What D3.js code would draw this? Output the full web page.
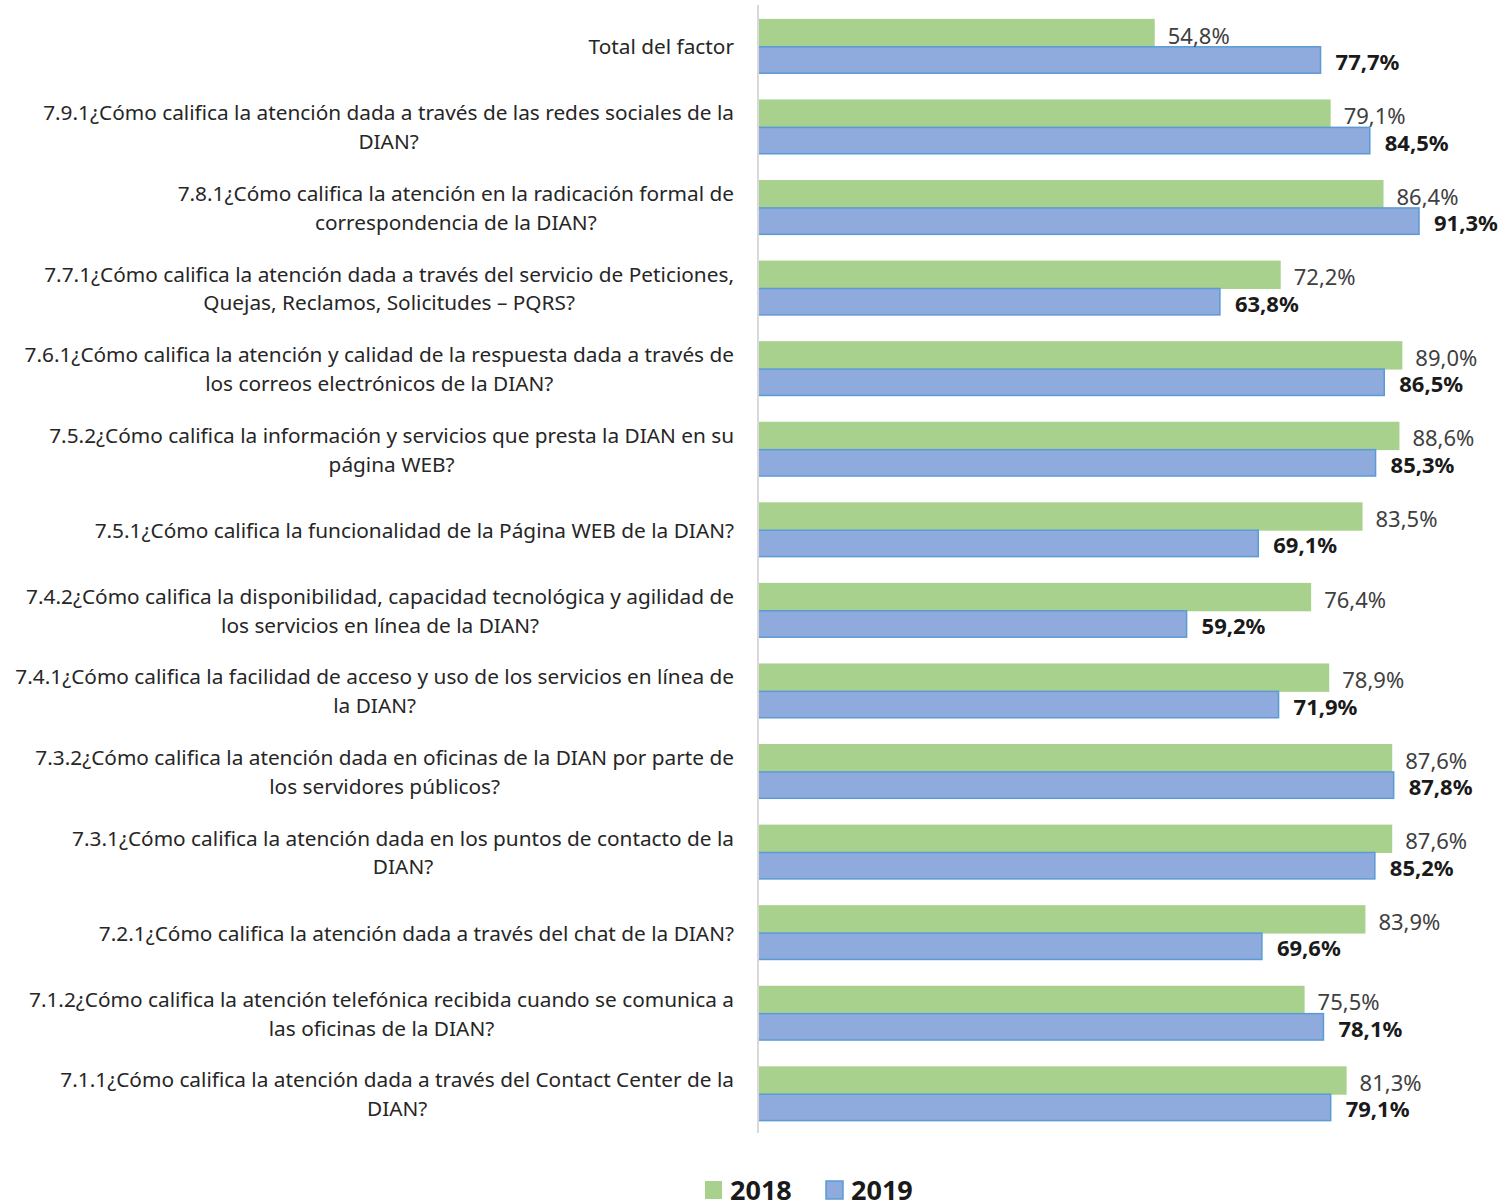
<!DOCTYPE html>
<html>
<head>
<meta charset="utf-8">
<script src="https://cdn.jsdelivr.net/npm/d3@7"></script>
<style>
  body { margin: 0; background: #fff; }
  svg { display: block; }
</style>
</head>
<body>
<div id="chart"></div>
<script>
// categories, each entry is the wrapped lines of the label
var categories = [
  ["Total del factor"],
  ["7.9.1¿Cómo califica la atención dada a través de las redes sociales de la", "DIAN?"],
  ["7.8.1¿Cómo califica la atención en la radicación formal de", "correspondencia de la DIAN?"],
  ["7.7.1¿Cómo califica la atención dada a través del servicio de Peticiones,", "Quejas, Reclamos, Solicitudes – PQRS?"],
  ["7.6.1¿Cómo califica la atención y calidad de la respuesta dada a través de", "los correos electrónicos de la DIAN?"],
  ["7.5.2¿Cómo califica la información y servicios que presta la DIAN en su", "página WEB?"],
  ["7.5.1¿Cómo califica la funcionalidad de la Página WEB de la DIAN?"],
  ["7.4.2¿Cómo califica la disponibilidad, capacidad tecnológica y agilidad de", "los servicios en línea de la DIAN?"],
  ["7.4.1¿Cómo califica la facilidad de acceso y uso de los servicios en línea de", "la DIAN?"],
  ["7.3.2¿Cómo califica la atención dada en oficinas de la DIAN por parte de", "los servidores públicos?"],
  ["7.3.1¿Cómo califica la atención dada en los puntos de contacto de la", "DIAN?"],
  ["7.2.1¿Cómo califica la atención dada a través del chat de la DIAN?"],
  ["7.1.2¿Cómo califica la atención telefónica recibida cuando se comunica a", "las oficinas de la DIAN?"],
  ["7.1.1¿Cómo califica la atención dada a través del Contact Center de la", "DIAN?"]
];
var values2018 = [54.8, 79.1, 86.4, 72.2, 89.0, 88.6, 83.5, 76.4, 78.9, 87.6, 87.6, 83.9, 75.5, 81.3];
var values2019 = [77.7, 84.5, 91.3, 63.8, 86.5, 85.3, 69.1, 59.2, 71.9, 87.8, 85.2, 69.6, 78.1, 79.1];
var seriesNames = ["2018", "2019"];

var width = 1503, height = 1201;
var colors = { "2018": "#a9d18e", "2019": "#8faadc" };

var svg = d3.select("#chart").append("svg")
  .attr("width", width)
  .attr("height", height);

var axisX = 758;

var x = d3.scaleLinear()
  .domain([0, 100])
  .range([axisX, axisX + 724]);

var y = d3.scaleBand()
  .domain(d3.range(categories.length))
  .range([6, 1134])
  .paddingInner(0.32)
  .paddingOuter(0.16);

var ySub = d3.scaleBand()
  .domain(seriesNames)
  .range([0, y.bandwidth()]);

var fmt = function(v) { return v.toFixed(1).replace(".", ",") + "%"; };

var rows = categories.map(function(c, i) {
  return { idx: i, lines: c, v2018: values2018[i], v2019: values2019[i] };
});

var groups = svg.selectAll("g.row")
  .data(rows)
  .enter()
  .append("g")
  .attr("class", "row")
  .attr("transform", function(d) { return "translate(0," + y(d.idx) + ")"; });

// 2018 bars
groups.append("rect")
  .attr("x", x(0))
  .attr("y", ySub("2018"))
  .attr("width", function(d) { return x(d.v2018) - x(0); })
  .attr("height", ySub.bandwidth() + 1)
  .style("fill", colors["2018"]);

// 2019 bars
groups.append("rect")
  .attr("x", x(0))
  .attr("y", ySub("2019") + 0.5)
  .attr("width", function(d) { return x(d.v2019) - x(0); })
  .attr("height", ySub.bandwidth() - 1)
  .style("fill", colors["2019"])
  .style("stroke", "#5b9bd5")
  .style("stroke-width", 1.5);

// value labels
groups.append("text")
  .attr("x", function(d) { return x(d.v2018) + 13; })
  .attr("y", ySub("2018") + ySub.bandwidth() / 2 + 2)
  .attr("dominant-baseline", "central")
  .style("font-family", "'Noto Sans', sans-serif")
  .style("font-size", "22px")
  .style("fill", "#404040")
  .text(function(d) { return fmt(d.v2018); });

groups.append("text")
  .attr("x", function(d) { return x(d.v2019) + 15; })
  .attr("y", ySub("2019") + ySub.bandwidth() / 2 + 1)
  .attr("dominant-baseline", "central")
  .style("font-family", "'Noto Sans', sans-serif")
  .style("font-size", "22px")
  .style("font-weight", "bold")
  .style("fill", "#1a1a1a")
  .text(function(d) { return fmt(d.v2019); });

// category labels: each label centred on its widest line, right edge at 734
var labelRight = 734;
var lineGap = 29;
groups.each(function(d) {
  var g = d3.select(this);
  var cy = y.bandwidth() / 2;
  var t = g.append("text")
    .style("font-family", "'Noto Sans', sans-serif")
    .style("font-size", "20.8px")
    .style("fill", "#262626")
    .attr("text-anchor", "middle")
    .attr("dominant-baseline", "central");
  var n = d.lines.length;
  var spans = t.selectAll("tspan")
    .data(d.lines)
    .enter()
    .append("tspan")
    .attr("y", function(l, j) { return cy + (j - (n - 1) / 2) * lineGap; })
    .text(function(l) { return l; });
  var maxW = 0;
  spans.each(function() { maxW = Math.max(maxW, this.getComputedTextLength()); });
  spans.attr("x", labelRight - maxW / 2);
});

// vertical axis line
svg.append("line")
  .attr("x1", axisX).attr("x2", axisX)
  .attr("y1", 5).attr("y2", 1133)
  .style("stroke", "#d9d9d9")
  .style("stroke-width", 2);

// legend
var legend = svg.append("g").attr("transform", "translate(705,1181)");
var legendX = d3.scaleOrdinal().domain(seriesNames).range([0, 121]);
var items = legend.selectAll("g")
  .data(seriesNames)
  .enter()
  .append("g")
  .attr("transform", function(d) { return "translate(" + legendX(d) + ",0)"; });
items.append("rect")
  .attr("width", 17)
  .attr("height", 18)
  .style("fill", function(d) { return colors[d]; })
  .style("stroke", function(d) { return d === "2019" ? "#5b9bd5" : "none"; })
  .style("stroke-width", 1.5);
items.append("text")
  .attr("x", 25)
  .attr("y", 19)
  .style("font-family", "'Noto Sans', sans-serif")
  .style("font-size", "27px")
  .style("font-weight", "bold")
  .style("fill", "#1a1a1a")
  .text(function(d) { return d; });
</script>
</body>
</html>
